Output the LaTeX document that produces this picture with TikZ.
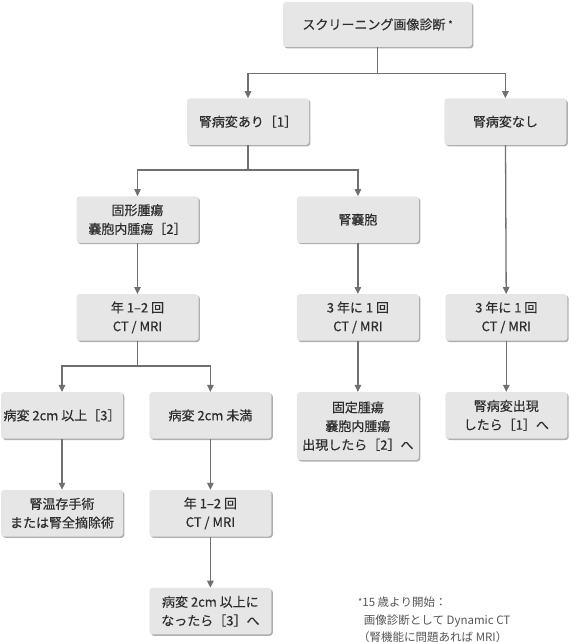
\documentclass[tikz,border=0pt]{standalone}
\usepackage{fontspec}
\usepackage{xcolor}
\usepackage{tikz}
\usetikzlibrary{positioning, arrows.meta, shadows}
\newfontfamily\jpfont{Noto Sans CJK JP}[FakeBold=0.35]
\newfontfamily\notefont{Noto Sans CJK JP}
\definecolor{boxgray}{RGB}{230,230,230}
\definecolor{shadowgray}{RGB}{175,175,175}
\definecolor{linegray}{RGB}{112,112,112}
\definecolor{textgray}{RGB}{45,45,45}
\definecolor{notegray}{RGB}{85,85,85}

\begin{document}
\begin{tikzpicture}[x=1pt, y=-1pt, node distance=51pt and 26pt,
  box/.style={fill=boxgray, rounded corners=3pt, minimum width=122pt, minimum height=46.5pt,
    inner xsep=1pt, inner ysep=2pt, align=center, text=textgray,
    font=\jpfont\fontsize{13}{18.7}\selectfont,
    drop shadow={shadow xshift=1.4pt, shadow yshift=-1.4pt, fill=shadowgray, opacity=1}},
  topbox/.style={box, minimum width=189pt, minimum height=45pt},
  line/.style={line width=1.3pt, color=linegray},
  arr/.style={line, -{Triangle[length=7pt, width=6.5pt]}}]
  \useasboundingbox (0,0) rectangle (570,642);

  \node[topbox] (screen) at (377.5,24.5) {スクリーニング画像診断 \raisebox{0.25ex}{\small *}};
  \node[box, below=51pt of screen, xshift=-129.5pt] (ari) {腎病変あり［1］};
  \node[box, right=135pt of ari] (nashi) {腎病変なし};
  \node[box, below=of ari, xshift=-110.5pt] (kokei) {固形腫瘍\\嚢胞内腫瘍［2］};
  \node[box, right=98pt of kokei] (nohou) {腎嚢胞};
  \node[box, below=of kokei] (freq1) {年 1–2 回\\CT / MRI};
  \node[box, below=of nohou] (freq3a) {3 年に 1 回\\CT / MRI};
  \node[box, right=of freq3a] (freq3b) {3 年に 1 回\\CT / MRI};
  \node[box, below=of freq1, xshift=-75.5pt] (big) {病変 2cm 以上［3］};
  \node[box, right=of big] (small) {病変 2cm 未満};
  \node[box, below=of freq3a, minimum height=68pt] (appear2) {固定腫瘍\\嚢胞内腫瘍\\出現したら［2］へ};
  \node[box, below=of freq3b] (appear1) {腎病変出現\\したら［1］へ};
  \node[box, below=of big] (surgery) {腎温存手術\\または腎全摘除術};
  \node[box, below=of small] (freq2) {年 1–2 回\\CT / MRI};
  \node[box, below=of freq2] (later3) {病変 2cm 以上に\\なったら［3］へ};

  % footnote
  \node[anchor=north west, inner sep=0pt, align=left, text=notegray,
    font=\notefont\fontsize{11.5}{17.7}\selectfont] (note) at (358,596.5)
    {\raisebox{0.2ex}{\small *}15 歳より開始：\\\hspace{0.5em}画像診断として Dynamic CT\\（腎機能に問題あれば MRI）};

  \draw[arr] (screen.south) -- ++(0,26) -| (ari.north);
  \draw[arr] (screen.south) -- ++(0,26) -| (nashi.north);
  \draw[arr] (ari.south) -- ++(0,25) -| (kokei.north);
  \draw[arr] (ari.south) -- ++(0,25) -| (nohou.north);
  \draw[arr] (kokei) -- (freq1);
  \draw[arr] (nohou) -- (freq3a);
  \draw[arr] (nashi) -- (freq3b);
  \draw[arr] (freq1.south) -- ++(0,25) -| (big.north);
  \draw[arr] (freq1.south) -- ++(0,25) -| (small.north);
  \draw[arr] (freq3a) -- (appear2);
  \draw[arr] (freq3b) -- (appear1);
  \draw[arr] (big) -- (surgery);
  \draw[arr] (small) -- (freq2);
  \draw[arr] (freq2) -- (later3);
\end{tikzpicture}
\end{document}
